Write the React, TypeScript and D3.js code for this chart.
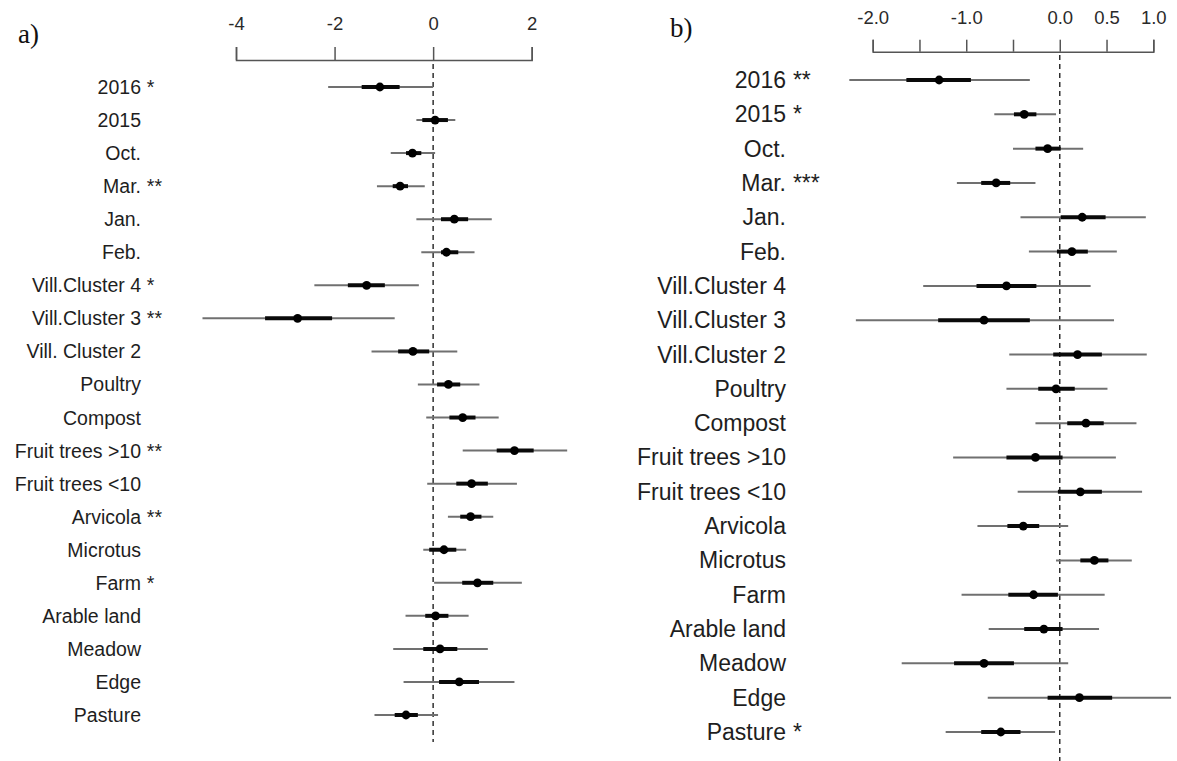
import React, { useEffect, useRef } from "react";
import * as d3 from "d3";

// ---------- Panel a ----------
const namesA = ["2016", "2015", "Oct.", "Mar.", "Jan.", "Feb.", "Vill.Cluster 4", "Vill.Cluster 3", "Vill. Cluster 2", "Poultry", "Compost", "Fruit trees >10", "Fruit trees <10", "Arvicola", "Microtus", "Farm", "Arable land", "Meadow", "Edge", "Pasture"];
const starsA = ["*", "", "", "**", "", "", "*", "**", "", "", "", "**", "", "**", "", "*", "", "", "", ""];
const estA = [-1.08, 0.04, -0.42, -0.67, 0.43, 0.27, -1.35, -2.75, -0.41, 0.31, 0.60, 1.65, 0.78, 0.76, 0.22, 0.90, 0.05, 0.14, 0.53, -0.55];
const lo95A = [-2.13, -0.34, -0.86, -1.14, -0.34, -0.24, -2.41, -4.68, -1.25, -0.31, -0.14, 0.60, -0.12, 0.30, -0.20, 0.02, -0.56, -0.81, -0.60, -1.19];
const hi95A = [0.0, 0.45, 0.04, -0.17, 1.19, 0.84, -0.29, -0.78, 0.49, 0.94, 1.33, 2.72, 1.70, 1.22, 0.67, 1.80, 0.72, 1.11, 1.65, 0.10];
const lo50A = [-1.45, -0.22, -0.55, -0.82, 0.16, 0.16, -1.73, -3.41, -0.71, 0.08, 0.33, 1.29, 0.47, 0.55, -0.08, 0.59, -0.16, -0.20, 0.12, -0.78];
const hi50A = [-0.68, 0.30, -0.24, -0.51, 0.71, 0.51, -0.98, -2.05, -0.08, 0.55, 0.86, 2.04, 1.11, 0.98, 0.47, 1.22, 0.31, 0.49, 0.93, -0.31];
const ticksA = [-4, -2, 0, 2];

// ---------- Panel b ----------
const namesB = ["2016", "2015", "Oct.", "Mar.", "Jan.", "Feb.", "Vill.Cluster 4", "Vill.Cluster 3", "Vill.Cluster 2", "Poultry", "Compost", "Fruit trees >10", "Fruit trees <10", "Arvicola", "Microtus", "Farm", "Arable land", "Meadow", "Edge", "Pasture"];
const starsB = ["**", "*", "", "***", "", "", "", "", "", "", "", "", "", "", "", "", "", "", "", "*"];
const estB = [-1.29, -0.38, -0.13, -0.68, 0.24, 0.13, -0.57, -0.81, 0.19, -0.04, 0.28, -0.26, 0.22, -0.39, 0.37, -0.28, -0.17, -0.81, 0.21, -0.63];
const lo95B = [-2.25, -0.70, -0.50, -1.10, -0.42, -0.33, -1.46, -2.18, -0.54, -0.57, -0.26, -1.14, -0.45, -0.88, -0.04, -1.05, -0.76, -1.69, -0.77, -1.22];
const hi95B = [-0.32, -0.04, 0.25, -0.26, 0.92, 0.61, 0.33, 0.58, 0.93, 0.51, 0.82, 0.60, 0.88, 0.09, 0.77, 0.48, 0.42, 0.09, 1.19, -0.05];
const lo50B = [-1.64, -0.49, -0.26, -0.84, 0.01, -0.03, -0.89, -1.30, -0.07, -0.23, 0.08, -0.57, -0.02, -0.56, 0.22, -0.55, -0.38, -1.13, -0.13, -0.84];
const hi50B = [-0.95, -0.25, 0.01, -0.53, 0.49, 0.30, -0.25, -0.32, 0.45, 0.16, 0.47, 0.03, 0.45, -0.22, 0.52, -0.02, 0.03, -0.49, 0.56, -0.42];
const ticksB = [-2, -1.5, -1, -0.5, 0, 0.5, 1];
const labelledTicksB = [-2, -1, 0, 0.5, 1];

const FONT = "'Liberation Sans', Arial, Helvetica, sans-serif";
const hyphen = (s: string) => s.replace("\u2212", "-");

type PanelProps = {
  names: string[]; stars: string[]; est: number[]; lo95: number[]; hi95: number[]; lo50: number[]; hi50: number[];
  x: d3.ScaleLinear<number, number>; y: (n: string) => number;
  labelX: number; fontSize: number; dashTop: number; dashBottom: number;
};

function Panel(p: PanelProps) {
  const rows = p.names.map((n, i) => ({ n, i }));
  return (
    <g>
      <line x1={p.x(0)} x2={p.x(0)} y1={p.dashTop} y2={p.dashBottom} stroke="#222" strokeWidth={1.4} strokeDasharray="5,4" />
      {rows.map(({ n, i }) => {
        const cy = p.y(n);
        return (
          <g key={i}>
            <text x={p.labelX} y={cy} textAnchor="end" dominantBaseline="central" fontFamily={FONT} fontSize={p.fontSize} fill="#1e1e1e">{n}</text>
            {p.stars[i] ? (
              <text x={p.labelX + p.fontSize * 0.3} y={cy} textAnchor="start" dominantBaseline="central" fontFamily={FONT} fontSize={p.fontSize} fill="#1e1e1e">{p.stars[i]}</text>
            ) : null}
            <line x1={p.x(p.lo95[i])} x2={p.x(p.hi95[i])} y1={cy} y2={cy} stroke="#707070" strokeWidth={2} />
            <line x1={p.x(p.lo50[i])} x2={p.x(p.hi50[i])} y1={cy} y2={cy} stroke="#0a0a0a" strokeWidth={4} />
            <circle cx={p.x(p.est[i])} cy={cy} r={4.4} fill="#000" />
          </g>
        );
      })}
    </g>
  );
}

export default function App() {
  const axA = useRef<SVGGElement>(null);
  const axB = useRef<SVGGElement>(null);

  const xA = d3.scaleLinear().domain([-4, 2]).range([236, 531.7]);
  const yA = d3.scalePoint<string>().domain(namesA.map((n, i) => i + "")).range([87, 715]);
  const xB = d3.scaleLinear().domain([-2, 1]).range([872.7, 1153.3]);
  const yB = d3.scalePoint<string>().domain(namesB.map((n, i) => i + "")).range([80, 732]);

  useEffect(() => {
    document.body.style.margin = "0";
    const a = d3.select(axA.current!);
    a.selectAll("*").remove();
    a.call(d3.axisTop(xA).tickValues(ticksA).tickSize(13).tickSizeOuter(13).tickPadding(17)
      .tickFormat((d: any) => hyphen(d3.format("d")(d))) as any);
    const b = d3.select(axB.current!);
    b.selectAll("*").remove();
    b.call(
      d3.axisTop(xB).tickValues(ticksB).tickSize(12).tickSizeOuter(12).tickPadding(16)
        .tickFormat((d: any) => (labelledTicksB.includes(d) ? hyphen(d3.format(".1f")(d)) : "")) as any
    );
    [a, b].forEach((g) => {
      g.select(".domain").attr("stroke", "#555").attr("stroke-width", 1.5);
      g.selectAll(".tick line").attr("stroke", "#555").attr("stroke-width", 1.5);
      g.selectAll(".tick text").attr("font-family", FONT).attr("font-size", 18.5).attr("fill", "#2a2a2a");
    });
  }, []);

  const wrapY = (s: d3.ScalePoint<string>, names: string[]) => (n: string) => s(names.indexOf(n) + "") as number;

  return (
    <svg width={1177} height={761} style={{ display: "block", background: "#fff" }}>
      <text x={18} y={43} fontFamily="'Liberation Serif', 'Times New Roman', serif" fontSize={27} fill="#111">a)</text>
      <text x={670} y={37} fontFamily="'Liberation Serif', 'Times New Roman', serif" fontSize={27} fill="#111">b)</text>
      <g ref={axA} transform="translate(0,60)" />
      <g ref={axB} transform="translate(0,51.7)" />
      <Panel names={namesA} stars={starsA} est={estA} lo95={lo95A} hi95={hi95A} lo50={lo50A} hi50={hi50A}
        x={xA} y={wrapY(yA, namesA)} labelX={141} fontSize={19.5} dashTop={64} dashBottom={742} />
      <Panel names={namesB} stars={starsB} est={estB} lo95={lo95B} hi95={hi95B} lo50={lo50B} hi50={hi50B}
        x={xB} y={wrapY(yB, namesB)} labelX={786} fontSize={23} dashTop={55} dashBottom={761} />
    </svg>
  );
}
